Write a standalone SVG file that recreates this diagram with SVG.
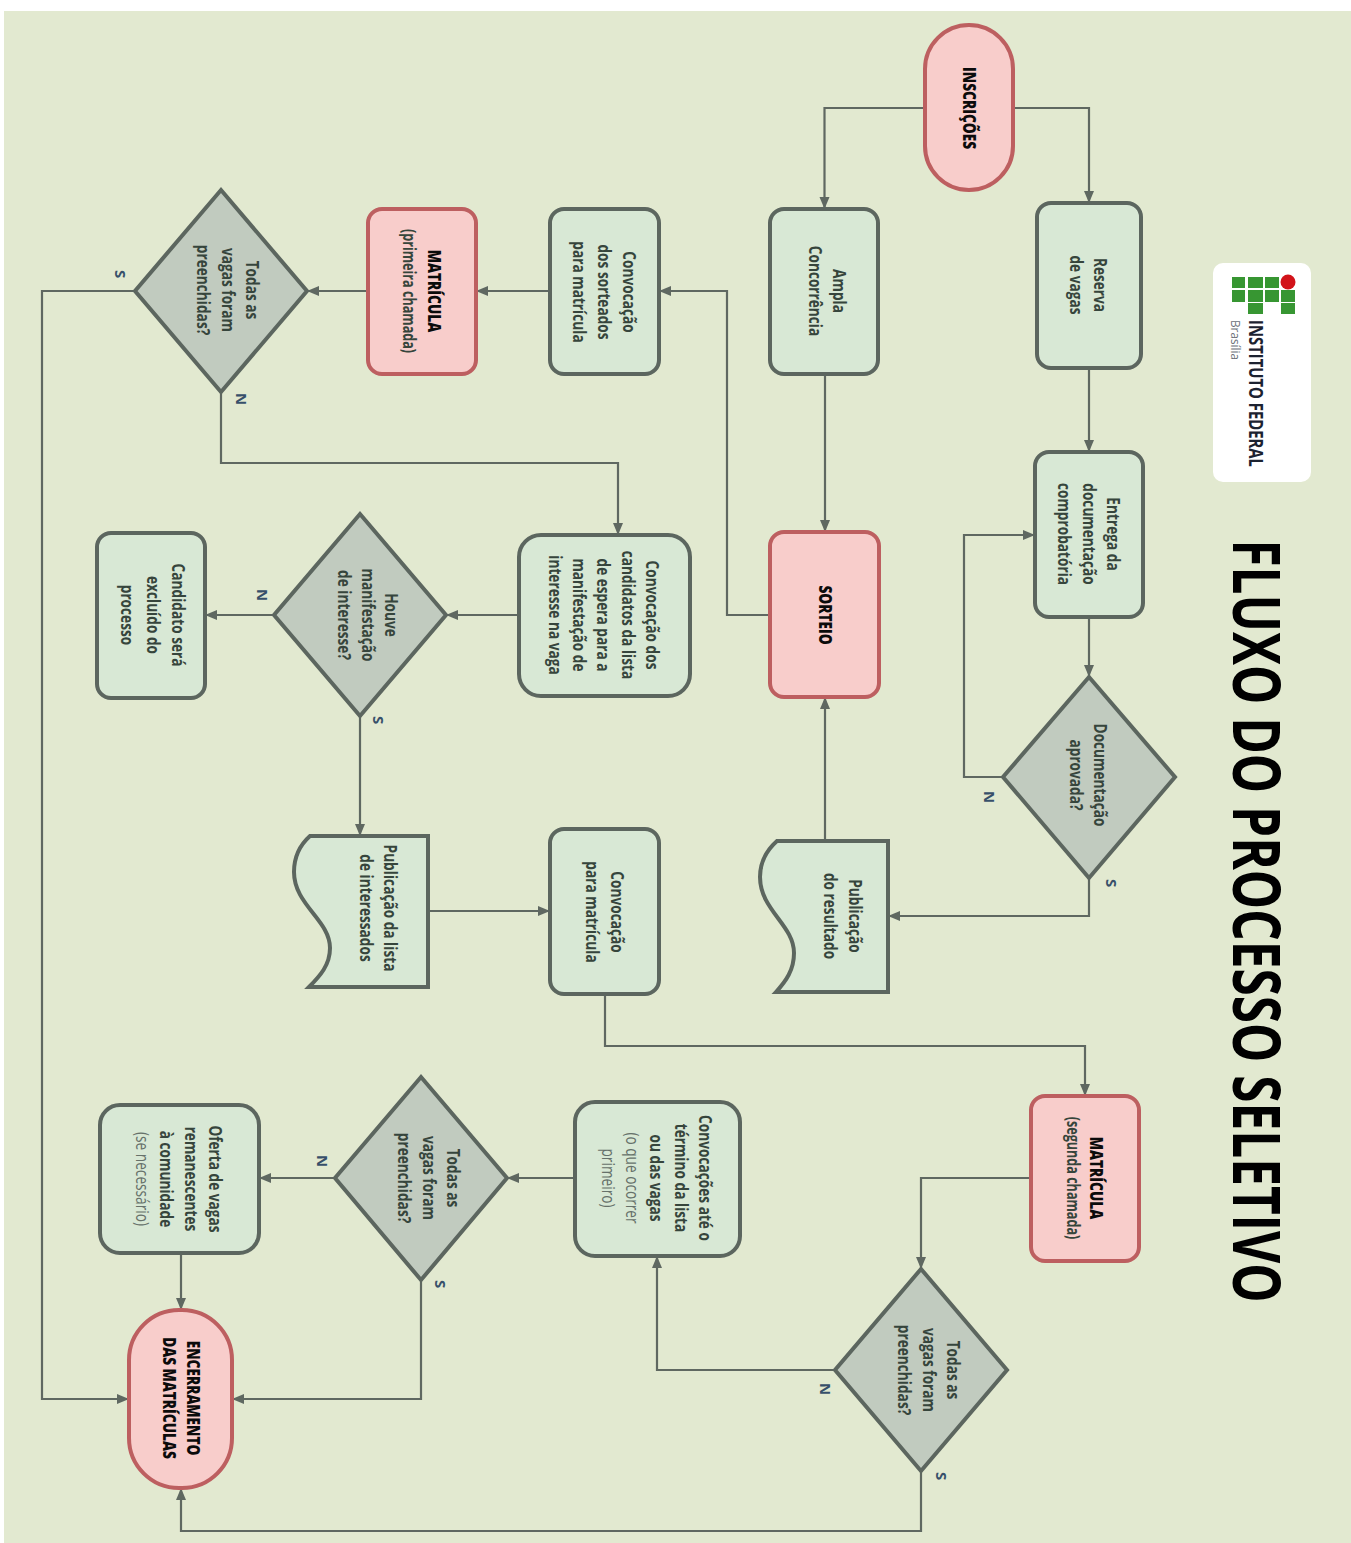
<svg xmlns="http://www.w3.org/2000/svg" width="1351" height="1543" viewBox="0 0 1351 1543">
<style>
.g{fill:#d8e8d5;stroke:#5c665f;stroke-width:4}
.d{fill:#c1cbbf;stroke:#5c665f;stroke-width:4}
.p{fill:#f8cdcb;stroke:#bd5f60;stroke-width:4}
.c path{fill:none;stroke:#5f6861;stroke-width:2.2;marker-end:url(#a)}
text{font-family:"Open Sans","Noto Sans",sans-serif;font-size:18px;font-weight:700;fill:#36453c;text-anchor:middle}
text.b{font-weight:800;fill:#0b0b0b}
text.l{font-size:15px;fill:#37506a}
.lt{font-weight:400;fill:#66716a}
</style>
<defs>
<marker id="a" markerUnits="userSpaceOnUse" markerWidth="13" markerHeight="11" refX="12" refY="5.5" orient="auto"><path d="M0 0.5L12 5.5L0 10.5Z" fill="#5f6861"/></marker>
</defs>
<rect width="1351" height="1543" fill="#fff"/>
<rect x="4" y="11" width="1347" height="1532" fill="#e2e9d0"/>

<g id="titulo"><text transform="translate(1233,921) rotate(90) scale(.75,1)" style="font-size:66px;font-weight:700;fill:#000">FLUXO DO PROCESSO SELETIVO</text></g>

<g id="logo">
<rect x="1213" y="263" width="98" height="219" rx="10" fill="#fff"/>
<g fill="#379632">
<rect x="1232" y="277" width="13" height="11"/><rect x="1248" y="277" width="15" height="11"/><rect x="1265" y="277" width="14" height="11"/>
<rect x="1232" y="290" width="13" height="12"/><rect x="1248" y="290" width="15" height="12"/><rect x="1265" y="290" width="14" height="12"/><rect x="1281" y="290" width="14" height="12"/>
<rect x="1248" y="303" width="15" height="11"/><rect x="1281" y="303" width="14" height="11"/>
</g>
<circle cx="1288" cy="282" r="7.500" fill="#d2131a"/>
<text transform="translate(1249,393.500) rotate(90)" style="font-size:19px;font-weight:700;fill:#1c2230" textLength="147" lengthAdjust="spacingAndGlyphs">INSTITUTO FEDERAL</text>
<text transform="translate(1231,340) rotate(90)" style="font-size:13px;font-weight:400;fill:#6b6f78" textLength="40" lengthAdjust="spacingAndGlyphs">Brasília</text>
</g>

<g id="conectores" class="c">
<path d="M925 108H824.500V209"/>
<path d="M1013 108H1089V203"/>
<path d="M1089 368V452"/>
<path d="M1089 617V677"/>
<path d="M1003 777H964V535H1035"/>
<path d="M1089 878V916H888"/>
<path d="M825 841V697"/>
<path d="M825 374V532"/>
<path d="M770 615H727V291H659"/>
<path d="M550 291H476"/>
<path d="M368 291H307"/>
<path d="M221 392V463H618V535"/>
<path d="M135 291H42V1399H129"/>
<path d="M519 615H446"/>
<path d="M274 615H205"/>
<path d="M360 716V836"/>
<path d="M428 911H550"/>
<path d="M605 994V1046H1085V1096"/>
<path d="M1031 1178H921V1269"/>
<path d="M835 1370H657V1256"/>
<path d="M921 1471V1531H181V1488"/>
<path d="M575 1178H507"/>
<path d="M335 1178H259"/>
<path d="M181 1253V1310"/>
<path d="M421 1280V1399H232"/>
</g>

<g id="inscricoes"><rect class="p" x="925" y="25" width="88" height="165" rx="44"/><text class="b" transform="translate(963,108) rotate(90) scale(.76,1)">INSCRIÇÕES</text></g>
<g id="reserva"><rect class="g" x="1037" y="203" width="104" height="165" rx="14"/><text transform="translate(1094,285) rotate(90) scale(.76,1)">Reserva<tspan x="0" dy="24.500">de vagas</tspan></text></g>
<g id="ampla"><rect class="g" x="770" y="209" width="108" height="165" rx="14"/><text transform="translate(833,291) rotate(90) scale(.76,1)">Ampla<tspan x="0" dy="24.500">Concorrência</tspan></text></g>
<g id="entrega"><rect class="g" x="1035" y="452" width="108" height="165" rx="14"/><text transform="translate(1107,534) rotate(90) scale(.76,1)">Entrega da<tspan x="0" dy="24.500">documentação</tspan><tspan x="0" dy="24.500">comprobatória</tspan></text></g>
<g id="documentacao"><polygon class="d" points="1089,677 1175,777 1089,878 1003,777"/><text transform="translate(1094,775) rotate(90) scale(.76,1)">Documentação<tspan x="0" dy="24.500">aprovada?</tspan></text></g>
<g id="sorteio"><rect class="p" x="770" y="532" width="109" height="165" rx="14"/><text class="b" transform="translate(819,615) rotate(90) scale(.76,1)">SORTEIO</text></g>
<g id="pub-resultado"><path class="g" d="M777 841H888V992H776C786 981 794 970 794 953C794 925 760 910 760 877C760 860 768 849 777 841Z"/><text transform="translate(849,916) rotate(90) scale(.76,1)">Publicação<tspan x="0" dy="25">do resultado</tspan></text></g>
<g id="pub-lista"><path class="g" d="M310 836H428V987H309C320 976 330 965 330 948C330 920 294 905 294 872C294 855 301 844 310 836Z"/><text transform="translate(384,908) rotate(90) scale(.76,1)">Publicação da lista<tspan x="0" dy="24">de interessados</tspan></text></g>
<g id="conv-matricula"><rect class="g" x="550" y="829" width="109" height="165" rx="14"/><text transform="translate(611,912) rotate(90) scale(.76,1)">Convocação<tspan x="0" dy="25">para matrícula</tspan></text></g>
<g id="conv-sorteados"><rect class="g" x="550" y="209" width="109" height="165" rx="14"/><text transform="translate(623,292) rotate(90) scale(.76,1)">Convocação<tspan x="0" dy="25">dos sorteados</tspan><tspan x="0" dy="25">para matrícula</tspan></text></g>
<g id="matricula-1"><rect class="p" x="368" y="209" width="108" height="165" rx="14"/><text class="b" transform="translate(428,291) rotate(90) scale(.76,1)">MATRÍCULA</text><text transform="translate(403,291) rotate(90) scale(.7,1)">(primeira chamada)</text></g>
<g id="todas-1"><polygon class="d" points="221,190 307,291 221,392 135,291"/><text transform="translate(246,290) rotate(90) scale(.76,1)">Todas as<tspan x="0" dy="24.500">vagas foram</tspan><tspan x="0" dy="24.500">preenchidas?</tspan></text></g>
<g id="conv-lista"><rect class="g" x="519" y="535" width="171" height="161" rx="22"/><text transform="translate(646,615) rotate(90) scale(.76,1)">Convocação dos<tspan x="0" dy="24.300">candidatos da lista</tspan><tspan x="0" dy="24.300">de espera para a</tspan><tspan x="0" dy="24.300">manifestação de</tspan><tspan x="0" dy="24.300">interesse na vaga</tspan></text></g>
<g id="houve"><polygon class="d" points="360,514 446,615 360,716 274,615"/><text transform="translate(385,615) rotate(90) scale(.76,1)">Houve<tspan x="0" dy="23.500">manifestação</tspan><tspan x="0" dy="23.500">de interesse?</tspan></text></g>
<g id="candidato"><rect class="g" x="97" y="533" width="108" height="165" rx="14"/><text transform="translate(172,615) rotate(90) scale(.76,1)">Candidato será<tspan x="0" dy="25.500">excluído do</tspan><tspan x="0" dy="25.500">processo</tspan></text></g>
<g id="matricula-2"><rect class="p" x="1031" y="1096" width="108" height="165" rx="14"/><text class="b" transform="translate(1090,1178) rotate(90) scale(.76,1)">MATRÍCULA</text><text transform="translate(1067,1178) rotate(90) scale(.7,1)">(segunda chamada)</text></g>
<g id="todas-2"><polygon class="d" points="921,1269 1007,1370 921,1471 835,1370"/><text transform="translate(947,1370) rotate(90) scale(.76,1)">Todas as<tspan x="0" dy="24.500">vagas foram</tspan><tspan x="0" dy="24.500">preenchidas?</tspan></text></g>
<g id="conv-ate"><rect class="g" x="575" y="1102" width="165" height="154" rx="20"/><text transform="translate(699,1178) rotate(90) scale(.76,1)">Convocações até o<tspan x="0" dy="24.300">término da lista</tspan><tspan x="0" dy="24.300">ou das vagas</tspan><tspan class="lt" x="0" dy="24.300">(o que ocorrer</tspan><tspan class="lt" x="0" dy="24.300">primeiro)</tspan></text></g>
<g id="todas-3"><polygon class="d" points="421,1077 507,1178 421,1280 335,1178"/><text transform="translate(447,1178) rotate(90) scale(.76,1)">Todas as<tspan x="0" dy="24.500">vagas foram</tspan><tspan x="0" dy="24.500">preenchidas?</tspan></text></g>
<g id="oferta"><rect class="g" x="100" y="1105" width="159" height="148" rx="20"/><text transform="translate(209,1179) rotate(90) scale(.76,1)">Oferta de vagas<tspan x="0" dy="24.500">remanescentes</tspan><tspan x="0" dy="24.500">à comunidade</tspan><tspan class="lt" x="0" dy="24.500">(se necessário)</tspan></text></g>
<g id="encerramento"><rect class="p" x="129" y="1310" width="103" height="178" rx="50"/><text class="b" transform="translate(187,1398) rotate(90) scale(.76,1)">ENCERRAMENTO<tspan x="0" dy="24">DAS MATRÍCULAS</tspan></text></g>

<g id="rotulos">
<text class="l" transform="translate(115,274) rotate(90)">S</text>
<text class="l" transform="translate(236,399) rotate(90)">N</text>
<text class="l" transform="translate(1106,883) rotate(90)">S</text>
<text class="l" transform="translate(984,797) rotate(90)">N</text>
<text class="l" transform="translate(257,595) rotate(90)">N</text>
<text class="l" transform="translate(373,720) rotate(90)">S</text>
<text class="l" transform="translate(317,1161) rotate(90)">N</text>
<text class="l" transform="translate(435,1284) rotate(90)">S</text>
<text class="l" transform="translate(820,1389) rotate(90)">N</text>
<text class="l" transform="translate(936,1476) rotate(90)">S</text>
</g>
</svg>
